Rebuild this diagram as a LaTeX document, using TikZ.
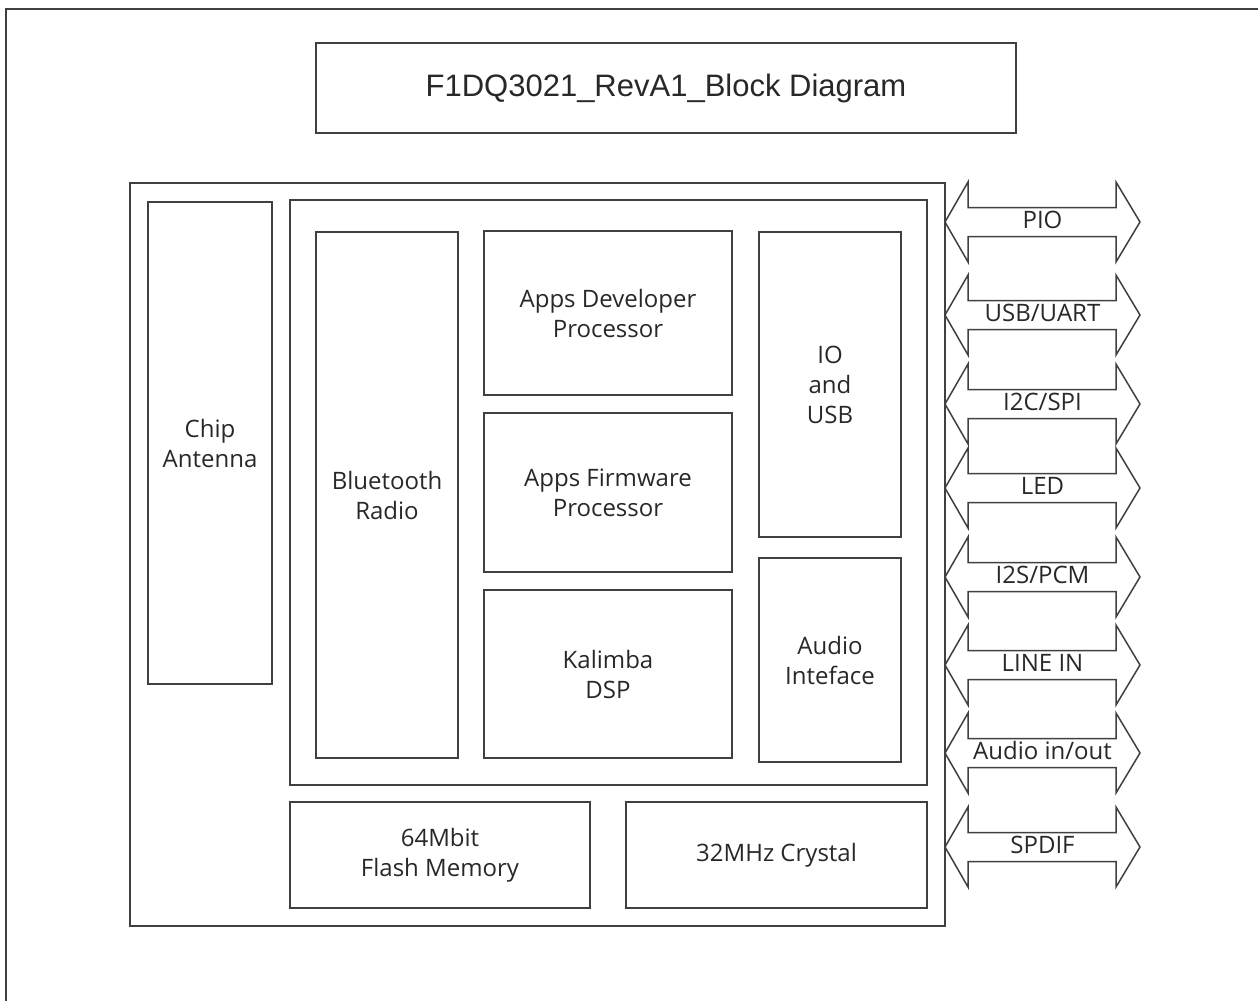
\documentclass[tikz,border=0pt]{standalone}
\usepackage{fontspec}
\setmainfont{Open Sans}
\newfontfamily\titlefont{Liberation Sans}
\usetikzlibrary{positioning}
\definecolor{mylinegray}{RGB}{64, 64, 64}
\definecolor{mytextgray}{RGB}{40, 40, 40}
\tikzset{
  blk/.style={draw=mylinegray, line width=1.5pt, text=mytextgray, align=center, outer sep=0, inner sep=0, font=\fontsize{24}{30}\selectfont},
  titlebox/.style={blk, font=\titlefont\fontsize{31}{36}\selectfont},
  bus/.style={draw=mylinegray, line width=1.5pt},
  buslbl/.style={text=mytextgray, anchor=base, inner sep=0, font=\fontsize{24}{28}\selectfont},
  frame/.style={draw=mylinegray, line width=2pt}
}

\begin{document}
\begin{tikzpicture}[x=1pt, y=-1pt]
\useasboundingbox (0,0) rectangle (1258,1001);
% --- Frame ---
\draw[frame] (6,1001) -- (6,9) -- (1258,9);

% --- Title ---
\node at (666,88) [titlebox, minimum width=700, minimum height=90] (title) {F1DQ3021\_RevA1\_Block Diagram};

% --- Module ---
\node at (537.5,554.5) [blk, minimum width=815, minimum height=743] (chip) {};
\node at (chip.north west) [anchor=north west, xshift=18, yshift=-19, blk, minimum width=124, minimum height=482] (antenna) {Chip\\Antenna};
\node at (chip.north west) [anchor=north west, xshift=160, yshift=-17, blk, minimum width=637, minimum height=585] (core) {};

% --- Core blocks ---
\node at (core.north west) [anchor=north west, xshift=26, yshift=-32, blk, minimum width=142, minimum height=526] (radio) {Bluetooth\\Radio};
\node at (core.north west) [anchor=north west, xshift=194, yshift=-31, blk, minimum width=248, minimum height=164] (appdev) {Apps Developer\\Processor};
\node at (appdev.south) [anchor=north, yshift=-18, blk, minimum width=248, minimum height=159] (appfw) {Apps Firmware\\Processor};
\node at (appfw.south) [anchor=north, yshift=-18, blk, minimum width=248, minimum height=168] (dsp) {Kalimba\\DSP};
\node at (core.north west) [anchor=north west, xshift=469, yshift=-32, blk, minimum width=142, minimum height=305] (iousb) {IO\\and\\USB};
\node at (iousb.south) [anchor=north, yshift=-21, blk, minimum width=142, minimum height=204] (audio) {Audio\\Inteface};

% --- Memory and clock ---
\node at (core.south west) [anchor=north west, yshift=-17, blk, minimum width=300, minimum height=106] (flash) {64Mbit\\Flash Memory};
\node at (core.south east) [anchor=north east, yshift=-17, blk, minimum width=301, minimum height=106] (xtal) {32MHz Crystal};

% --- Interfaces ---
\foreach \y/\lbl [count=\i] in {222/PIO, 315/{USB/UART}, 404/{I2C/SPI}, 488/LED, 577/{I2S/PCM}, 665/LINE IN, 753/{Audio in/out}, 847/SPDIF} {
  \draw[bus] (945,\y) -- ++(23,-40) -- ++(0,25.5) -- ++(148,0) -- ++(0,-25.5) -- ++(24,40) -- ++(-24,40) -- ++(0,-25.5) -- ++(-148,0) -- ++(0,25.5) -- cycle;
  \node at (1042.5,\y+6) [buslbl] (bus\i) {\lbl};
}
\end{tikzpicture}
\end{document}
